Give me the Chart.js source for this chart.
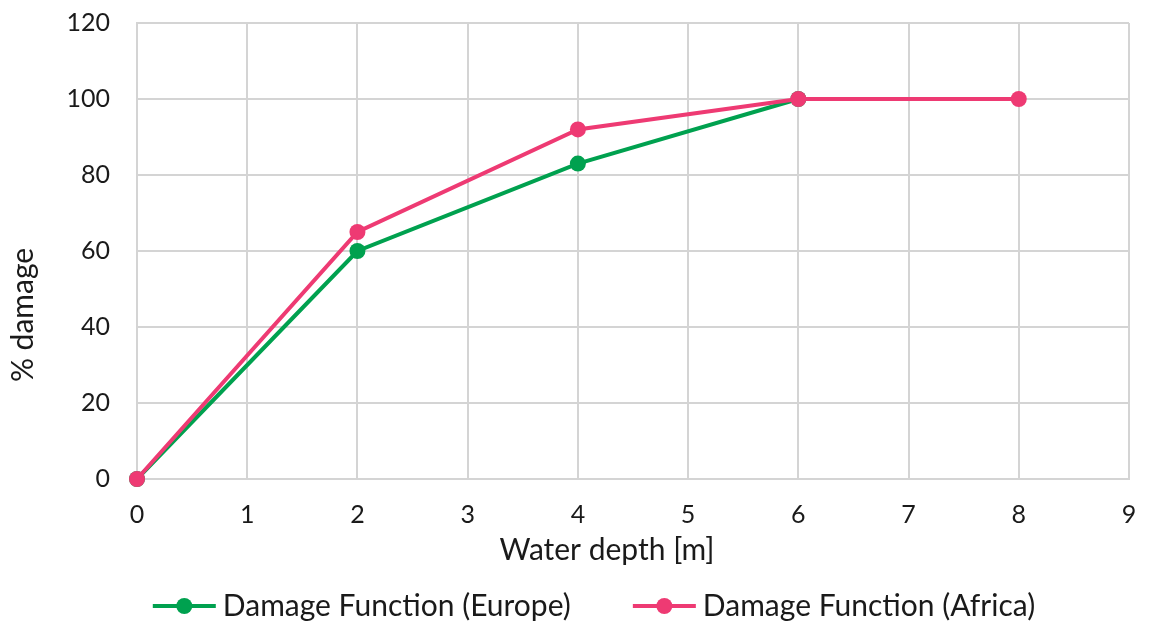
<!DOCTYPE html>
<html>
<head>
<meta charset="utf-8">
<script src="https://cdn.jsdelivr.net/npm/chart.js@4.4.0/dist/chart.umd.min.js"></script>
<style>
html,body{margin:0;padding:0;background:#fff;}
#wrap{width:1152px;height:622px;position:relative;}
</style>
</head>
<body>
<div id="wrap"><canvas id="c" width="1152" height="622"></canvas></div>
<script>
// ---- data ----
const depthEurope = [0, 2, 4, 6];
const damageEurope = [0, 60, 83, 100];
const depthAfrica = [0, 2, 4, 6, 8];
const damageAfrica = [0, 65, 92, 100, 100];
const seriesNames = ['Damage Function (Europe)', 'Damage Function (Africa)'];
const xTitle = 'Water depth [m]';
const yTitle = '% damage';
const xRange = [0, 9];
const yRange = [0, 120];

const GREEN = '#00A14F';
const PINK = '#EE3A73';
const FONT = 'Lato, "Open Sans", sans-serif';
const TEXT = '#1a1a1a';
const GRID = '#d4d4d4';

function pts(xs, ys){ return xs.map((x,i)=>({x:x, y:ys[i]})); }

const titlesAndLegend = {
  id: 'titlesAndLegend',
  afterDraw(chart){
    const ctx = chart.ctx;
    ctx.save();
    ctx.fillStyle = TEXT;
    // x title
    ctx.font = '30px ' + FONT;
    ctx.textAlign = 'center';
    ctx.textBaseline = 'middle';
    ctx.fillText(xTitle, 607, 550);
    // y title
    ctx.save();
    ctx.translate(23, 315);
    ctx.rotate(-Math.PI/2);
    ctx.fillText(yTitle, 0, 0);
    ctx.restore();
    // legend
    ctx.font = '30px ' + FONT;
    const lineLen = 63, gapText = 7, gapItems = 62;
    const ws = seriesNames.map(n => ctx.measureText(n).width);
    const total = ws.reduce((a,w)=>a+lineLen+gapText+w,0) + gapItems*(ws.length-1);
    let x = 594 - total/2;
    const y = 606;
    chart.data.datasets.forEach((ds,i)=>{
      ctx.strokeStyle = ds.borderColor;
      ctx.lineWidth = 4;
      ctx.beginPath();
      ctx.moveTo(x, y); ctx.lineTo(x+lineLen, y);
      ctx.stroke();
      ctx.fillStyle = ds.borderColor;
      ctx.beginPath();
      ctx.arc(x+lineLen/2, y, 8, 0, Math.PI*2);
      ctx.fill();
      ctx.fillStyle = TEXT;
      ctx.textAlign = 'left';
      ctx.fillText(seriesNames[i], x+lineLen+gapText, y);
      x += lineLen + gapText + ws[i] + gapItems;
    });
    ctx.restore();
  }
};

new Chart(document.getElementById('c'), {
  type: 'line',
  data: {
    datasets: [
      { label: seriesNames[0], data: pts(depthEurope, damageEurope), borderColor: GREEN, backgroundColor: GREEN,
        borderWidth: 4, pointRadius: 8, pointHoverRadius: 8, pointBorderWidth: 0, tension: 0, order: 1, clip: false },
      { label: seriesNames[1], data: pts(depthAfrica, damageAfrica), borderColor: PINK, backgroundColor: PINK,
        borderWidth: 4, pointRadius: 8, pointHoverRadius: 8, pointBorderWidth: 0, tension: 0, order: 0, clip: false }
    ]
  },
  options: {
    responsive: false,
    animation: false,
    layout: { padding: { left: 0, right: 23, top: 23, bottom: 57 } },
    plugins: { legend: { display: false }, tooltip: { enabled: false } },
    scales: {
      x: {
        type: 'linear', min: xRange[0], max: xRange[1],
        ticks: { stepSize: 1, color: TEXT, font: { family: FONT, size: 25 }, padding: 21 },
        grid: { color: GRID, lineWidth: 2, drawTicks: false },
        border: { color: GRID, width: 2 },
        afterFit(s){ s.height = 86; s.paddingLeft = 0; s.paddingRight = 0; }
      },
      y: {
        min: yRange[0], max: yRange[1],
        ticks: { stepSize: 20, color: TEXT, font: { family: FONT, size: 25 }, padding: 27 },
        grid: { color: GRID, lineWidth: 2, drawTicks: false },
        border: { color: GRID, width: 2 },
        afterFit(s){ s.width = 137; s.paddingTop = 0; s.paddingBottom = 0; }
      }
    }
  },
  plugins: [titlesAndLegend]
});
</script>
</body>
</html>
